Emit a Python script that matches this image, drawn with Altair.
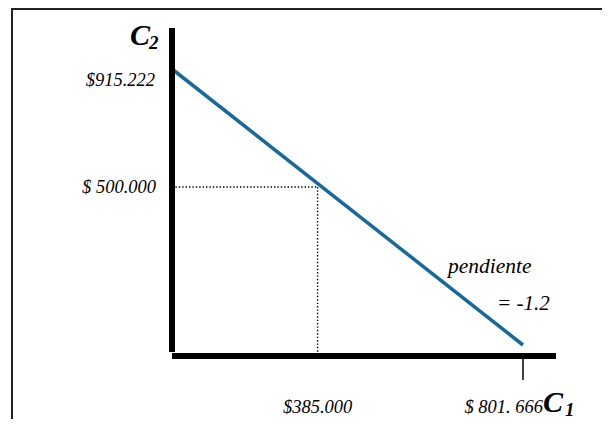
import altair as alt
import pandas as pd

# ---- data ----
c1_values = [0.0, 801.666]          # C1 (thousands of $)
c2_values = [915.222, 0.0]          # C2 (thousands of $)
point_c1 = [385.0]                  # consumption today
point_c2 = [500.0]                  # consumption tomorrow
x_labels = ["$385.000", "$ 801. 666"]
x_label_pos = [385.0, 801.666]
y_labels = ["$915.222", "$ 500.000"]
y_label_pos = [915.222, 500.0]
slope_text = ["pendiente", "= -1.2"]

FONT = "Liberation Serif"
W, H = 594, 411

line_df = pd.DataFrame({"c1": c1_values, "c2": c2_values})
pt_df = pd.DataFrame({"c1": point_c1, "c2": point_c2, "zero": [0.0]})
tick_df = pd.DataFrame({"c1": [c1_values[1]]})

xs = alt.Scale(type="pow", exponent=1.2, domain=[0, 801.666], range=[164, 515], zero=False, nice=False)
ys = alt.Scale(type="pow", exponent=0.923, domain=[0, 915.222], range=[337, 61], zero=False, nice=False)

one = pd.DataFrame({"a": [0]})

# frame (left and top edges)
frame_left = alt.Chart(one).mark_rule(color="#222", strokeWidth=2).encode(
    x=alt.value(4), y=alt.value(0), y2=alt.value(H))
frame_top = alt.Chart(one).mark_rule(color="#222", strokeWidth=2).encode(
    x=alt.value(4), x2=alt.value(W), y=alt.value(1))

# axes
y_axis = alt.Chart(one).mark_rule(color="black", strokeWidth=6, strokeCap="butt").encode(
    x=alt.value(164), y=alt.value(20), y2=alt.value(344))
x_axis = alt.Chart(one).mark_rule(color="black", strokeWidth=6, strokeCap="butt").encode(
    x=alt.value(164), x2=alt.value(548), y=alt.value(348))

tick = alt.Chart(tick_df).mark_rule(color="black", strokeWidth=1.5).encode(
    x=alt.X("c1:Q", scale=xs, axis=None), y=alt.value(351), y2=alt.value(372))

# dotted guides
h_dot = alt.Chart(pt_df).mark_rule(color="black", strokeWidth=1.4, strokeDash=[1.4, 2]).encode(
    x=alt.X("zero:Q", scale=xs, axis=None), x2="c1:Q",
    y=alt.Y("c2:Q", scale=ys, axis=None))
v_dot = alt.Chart(pt_df).mark_rule(color="black", strokeWidth=1.4, strokeDash=[1.4, 2]).encode(
    x=alt.X("c1:Q", scale=xs, axis=None),
    y=alt.Y("c2:Q", scale=ys, axis=None), y2=alt.value(345))

# budget line
budget = alt.Chart(line_df).mark_line(color="#17699b", strokeWidth=3.5).encode(
    x=alt.X("c1:Q", scale=xs, axis=None),
    y=alt.Y("c2:Q", scale=ys, axis=None))

txt = dict(font=FONT, fontStyle="italic", color="black")

# y value labels
ylab1 = alt.Chart(pd.DataFrame({"v": [y_label_pos[0]], "t": [y_labels[0]]})).mark_text(
    align="right", baseline="alphabetic", dy=17, fontSize=18.5, **txt).encode(
    x=alt.value(147), y=alt.Y("v:Q", scale=ys, axis=None), text="t:N")
ylab2 = alt.Chart(pd.DataFrame({"v": [y_label_pos[1]], "t": [y_labels[1]]})).mark_text(
    align="right", baseline="middle", fontSize=18.5, **txt).encode(
    x=alt.value(148), y=alt.Y("v:Q", scale=ys, axis=None), text="t:N")

# x value labels
xlab1 = alt.Chart(pd.DataFrame({"v": [x_label_pos[0]], "t": [x_labels[0]]})).mark_text(
    align="center", baseline="alphabetic", fontSize=18.5, **txt).encode(
    x=alt.X("v:Q", scale=xs, axis=None), y=alt.value(405), text="t:N")
xlab2 = alt.Chart(pd.DataFrame({"v": [x_label_pos[1]], "t": [x_labels[1]]})).mark_text(
    align="right", baseline="alphabetic", dx=20, fontSize=18.5, **txt).encode(
    x=alt.X("v:Q", scale=xs, axis=None), y=alt.value(405), text="t:N")

# axis names with subscripts
c2_main = alt.Chart(pd.DataFrame({"t": ["C"]})).mark_text(
    align="right", baseline="alphabetic", fontSize=30, fontWeight="bold", **txt).encode(
    x=alt.value(142), y=alt.value(37), text="t:N")
c2_sub = alt.Chart(pd.DataFrame({"t": ["2"]})).mark_text(
    align="left", baseline="alphabetic", fontSize=19, fontWeight="bold", **txt).encode(
    x=alt.value(141), y=alt.value(41), text="t:N")
c1_main = alt.Chart(pd.DataFrame({"t": ["C"]})).mark_text(
    align="left", baseline="alphabetic", fontSize=30, fontWeight="bold", **txt).encode(
    x=alt.value(535), y=alt.value(404), text="t:N")
c1_sub = alt.Chart(pd.DataFrame({"t": ["1"]})).mark_text(
    align="left", baseline="alphabetic", fontSize=19, fontWeight="bold", **txt).encode(
    x=alt.value(557), y=alt.value(408), text="t:N")

# slope annotation
slope1 = alt.Chart(pd.DataFrame({"t": [slope_text[0]]})).mark_text(
    align="left", baseline="alphabetic", fontSize=21.5, **txt).encode(
    x=alt.value(440), y=alt.value(265), text="t:N")
slope2 = alt.Chart(pd.DataFrame({"t": [slope_text[1]]})).mark_text(
    align="left", baseline="alphabetic", fontSize=21, **txt).encode(
    x=alt.value(489), y=alt.value(302), text="t:N")

chart = alt.layer(
    frame_left, frame_top, h_dot, v_dot, budget, y_axis, x_axis, tick,
    ylab1, ylab2, xlab1, xlab2, c2_main, c2_sub, c1_main, c1_sub, slope1, slope2
).properties(
    width=W, height=H, padding=0, autosize=alt.AutoSizeParams(type="none"),
    background="white"
).configure_view(stroke=None)

chart.save("out.html", embed_options={"renderer": "svg", "actions": False})
